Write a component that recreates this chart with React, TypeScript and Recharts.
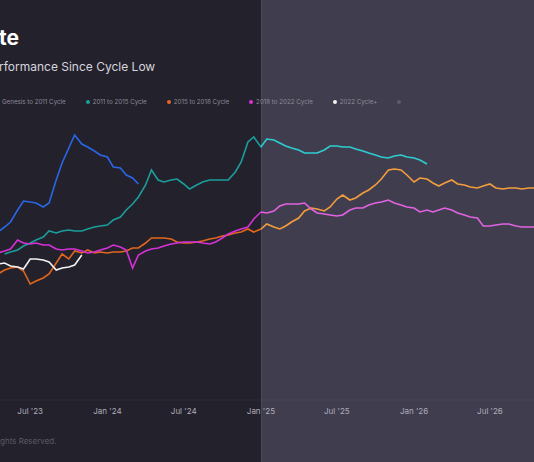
import React from 'react';
import { LineChart, Line, XAxis, YAxis } from 'recharts';

// semi-monthly samples
const dates = [
  '2023-04-15', '2023-05-01', '2023-05-15', '2023-06-01', '2023-06-15', '2023-07-01', '2023-07-15', '2023-08-01', '2023-08-15', '2023-09-01',
  '2023-09-15', '2023-10-01', '2023-10-15', '2023-11-01', '2023-11-15', '2023-12-01', '2023-12-15', '2024-01-01', '2024-01-15', '2024-02-01',
  '2024-02-15', '2024-03-01', '2024-03-15', '2024-04-01', '2024-04-15', '2024-05-01', '2024-05-15', '2024-06-01', '2024-06-15', '2024-07-01',
  '2024-07-15', '2024-08-01', '2024-08-15', '2024-09-01', '2024-09-15', '2024-10-01', '2024-10-15', '2024-11-01', '2024-11-15', '2024-12-01',
  '2024-12-15', '2025-01-01', '2025-01-15', '2025-02-01', '2025-02-15', '2025-03-01', '2025-03-15', '2025-04-01', '2025-04-15', '2025-05-01',
  '2025-05-15', '2025-06-01', '2025-06-15', '2025-07-01', '2025-07-15', '2025-08-01', '2025-08-15', '2025-09-01', '2025-09-15', '2025-10-01',
  '2025-10-15', '2025-11-01', '2025-11-15', '2025-12-01', '2025-12-15', '2026-01-01', '2026-01-15', '2026-02-01', '2026-02-15', '2026-03-01',
  '2026-03-15', '2026-04-01', '2026-04-15', '2026-05-01', '2026-05-15', '2026-06-01', '2026-06-15', '2026-07-01', '2026-07-15', '2026-08-01',
  '2026-08-15', '2026-09-01', '2026-09-15', '2026-10-01', '2026-10-15',
];

const genesisCycle = [
  16.8, 17.3, 17.8, 19.0, 19.9, 19.8, 19.7, 19.3, 19.7, 22.0,
  23.7, 25.2, 26.5, 25.6, 25.3, 24.9, 24.5, 24.3, 23.3, 23.2,
  22.5, 22.2, 21.6,
];

const cycle2011 = [
  null, 14.6, 14.8, 15.0, 15.4, 15.7, 16.0, 16.3, 16.9, 16.7,
  16.9, 17.0, 16.9, 16.9, 17.1, 17.3, 17.4, 17.5, 18.0, 18.3,
  19.0, 19.6, 20.3, 21.5, 23.0, 22.0, 21.8, 22.0, 22.1, 21.6,
  21.1, 21.5, 21.8, 22.0, 22.0, 22.0, 22.0, 22.8, 23.8, 25.8,
  26.3, 25.3, 26.1, 26.0, 25.7, 25.4, 25.2, 25.0, 24.7, 24.7,
  24.7, 25.0, 25.4, 25.4, 25.3, 25.3, 25.1, 24.9, 24.7, 24.5,
  24.3, 24.2, 24.4, 24.5, 24.3, 24.2, 24.0, 23.6,
];

const cycle2015 = [
  12.6, 13.0, 13.2, 13.3, 12.9, 11.6, 11.9, 12.2, 12.6, 13.7,
  14.6, 14.1, 14.9, 14.7, 15.0, 14.7, 14.8, 14.7, 14.8, 14.8,
  14.9, 15.2, 15.2, 15.7, 16.2, 16.2, 16.2, 16.1, 15.8, 15.7,
  15.7, 15.8, 15.9, 16.1, 16.2, 16.4, 16.5, 16.7, 16.8, 17.1,
  16.8, 17.1, 17.6, 17.3, 17.1, 17.4, 17.8, 18.2, 18.9, 19.2,
  19.1, 18.9, 19.3, 20.1, 20.5, 20.0, 20.2, 20.7, 21.0, 21.5,
  22.1, 23.0, 23.1, 23.0, 22.5, 21.8, 22.2, 22.1, 21.7, 21.4,
  21.7, 22.0, 21.6, 21.5, 21.3, 21.2, 21.4, 21.6, 21.2, 21.1,
  21.2, 21.2, 21.1, 21.2, 21.2,
];

const cycle2018 = [
  14.7, 14.9, 15.1, 16.0, 15.7, 15.6, 15.7, 15.5, 15.5, 15.1,
  15.0, 15.1, 15.1, 14.9, 14.7, 14.8, 15.0, 15.2, 15.5, 15.3,
  15.0, 13.2, 14.5, 14.9, 15.1, 15.2, 15.4, 15.6, 15.7, 15.8,
  15.8, 15.8, 15.7, 15.6, 15.8, 16.2, 16.6, 16.9, 17.1, 17.3,
  18.1, 18.8, 18.7, 18.9, 19.4, 19.6, 19.6, 19.6, 19.7, 19.1,
  18.7, 18.6, 18.5, 18.4, 18.5, 19.0, 19.2, 19.2, 19.5, 19.7,
  19.8, 20.0, 19.7, 19.5, 19.3, 19.2, 18.8, 19.0, 18.8, 19.0,
  19.2, 19.0, 18.7, 18.5, 18.3, 18.2, 17.4, 17.4, 17.5, 17.6,
  17.6, 17.4, 17.3, 17.3, 17.3,
];

const cycle2022 = [
  13.6, 13.7, 13.4, 13.3, 13.1, 14.1, 14.1, 14.0, 13.8, 13.0,
  13.2, 13.3, 13.5, 14.5,
];

const tickDates = ['2023-07-01', '2024-01-01', '2024-07-01', '2025-01-01', '2025-07-01', '2026-01-01', '2026-07-01'];
const monthNames = ['Jan', 'Feb', 'Mar', 'Apr', 'May', 'Jun', 'Jul', 'Aug', 'Sep', 'Oct', 'Nov', 'Dec'];

const legendItems = [
  { label: 'Genesis to 2011 Cycle', color: '#2a66e8' },
  { label: '2011 to 2015 Cycle', color: '#1a9d9b' },
  { label: '2015 to 2018 Cycle', color: '#e2691f' },
  { label: '2018 to 2022 Cycle', color: '#d932d9' },
  { label: '2022 Cycle+', color: '#f2f2f2' },
  { label: '', color: '#5e5c6c' },
];

const W = 534;
const H = 462;
const SPLIT = 261;

const data = dates.map((d, i) => ({
  t: Date.parse(d),
  genesis: genesisCycle[i] ?? null,
  c2011: cycle2011[i] ?? null,
  c2015: cycle2015[i] ?? null,
  c2018: cycle2018[i] ?? null,
  c2022: cycle2022[i] ?? null,
}));

const fmtTick = (v: number) => {
  const d = new Date(v);
  return `${monthNames[d.getUTCMonth()]} '${String(d.getUTCFullYear()).slice(2)}`;
};

const splitGradient = (id: string, left: string, right: string) => (
  <linearGradient id={id} gradientUnits="userSpaceOnUse" x1="0" y1="0" x2={W} y2="0">
    <stop offset={SPLIT / W} stopColor={left} />
    <stop offset={SPLIT / W} stopColor={right} />
  </linearGradient>
);

export default function App() {
  const font = 'Inter, "Noto Sans", sans-serif';
  return (
    <div style={{ position: 'absolute', left: 0, top: 0, width: W, height: H, overflow: 'hidden', fontFamily: font }}>
      <div style={{ position: 'absolute', left: 0, top: 0, width: SPLIT, height: H, background: '#23212b' }} />
      <div style={{ position: 'absolute', left: SPLIT, top: 0, width: W - SPLIT, height: H, background: '#403e4e' }} />
      <div style={{ position: 'absolute', left: SPLIT, top: 0, width: 1, height: H, background: '#4a4859' }} />

      <div style={{ position: 'absolute', left: -1, top: 25, fontSize: 21, fontWeight: 700, color: '#ffffff' }}>te</div>
      <div style={{ position: 'absolute', left: -1, top: 59, fontSize: 12, color: '#d6d5de' }}>rformance Since Cycle Low</div>

      <div style={{ position: 'absolute', left: -5, top: 98, display: 'flex', alignItems: 'center', fontSize: 6.2, color: '#8d8b99' }}>
        {legendItems.map((it, i) => (
          <div key={i} style={{ display: 'flex', alignItems: 'center', marginRight: 20 }}>
            <span style={{ width: 4, height: 4, borderRadius: 2, background: it.color, marginRight: 3 }} />
            <span>{it.label}</span>
          </div>
        ))}
      </div>

      <div style={{ position: 'absolute', left: 0, top: 436, fontSize: 8, color: '#5b5968' }}>ghts Reserved.</div>

      <div style={{ position: 'absolute', left: 0, top: 0 }}>
        <LineChart width={W} height={H} data={data} margin={{ top: 120, right: 0, bottom: 32, left: 0 }}>
          <defs>
            {splitGradient('g2011', '#1a9d9b', '#2ccdd0')}
            {splitGradient('g2015', '#e0661e', '#f29c3c')}
            {splitGradient('g2018', '#d630d6', '#e062e0')}
          </defs>
          <XAxis
            dataKey="t"
            type="number"
            domain={[Date.UTC(2023, 3, 20), Date.UTC(2026, 9, 14)]}
            ticks={tickDates.map((d) => Date.parse(d))}
            tickFormatter={fmtTick}
            tick={{ fill: '#aeacba', fontSize: 8, fontFamily: font }}
            tickLine={false}
            axisLine={{ stroke: 'rgba(255,255,255,0.04)' }}
            height={30}
            allowDataOverflow
          />
          <YAxis hide domain={[0, 28]} allowDataOverflow />
          <Line dataKey="c2015" stroke="url(#g2015)" strokeWidth={1.6} dot={false} isAnimationActive={false} />
          <Line dataKey="c2011" stroke="url(#g2011)" strokeWidth={1.6} dot={false} isAnimationActive={false} />
          <Line dataKey="c2018" stroke="url(#g2018)" strokeWidth={1.6} dot={false} isAnimationActive={false} />
          <Line dataKey="genesis" stroke="#2a66e8" strokeWidth={1.6} dot={false} isAnimationActive={false} />
          <Line dataKey="c2022" stroke="#f2f2f2" strokeWidth={1.6} dot={false} isAnimationActive={false} />
        </LineChart>
      </div>
    </div>
  );
}
